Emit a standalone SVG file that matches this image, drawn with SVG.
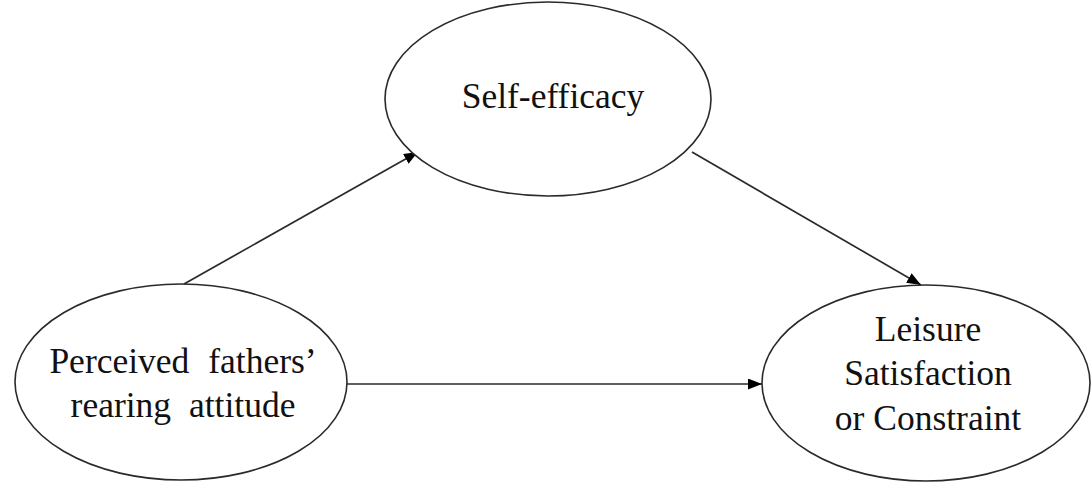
<svg xmlns="http://www.w3.org/2000/svg" width="1092" height="498" viewBox="0 0 1092 498">
<style>
.node{fill:#fff;stroke:#2a2a2a;stroke-width:1.6}
.lbl{font-family:"Liberation Serif","Times New Roman",serif;font-size:35.5px;fill:#111;text-anchor:middle}
.edge{stroke:#2a2a2a;stroke-width:1.7;fill:none;marker-end:url(#arr)}
</style>
<defs>
<marker id="arr" viewBox="0 0 14 11" refX="14" refY="5.5" markerWidth="14" markerHeight="11" markerUnits="userSpaceOnUse" orient="auto">
<path d="M0,0 L14,5.5 L0,11 Z" fill="#000"/>
</marker>
</defs>
<rect width="1092" height="498" fill="#fff"/>
<g id="connectors">
<line class="edge" x1="184" y1="284" x2="418" y2="152"/>
<line class="edge" x1="692" y1="152" x2="921" y2="285"/>
<line class="edge" x1="347" y1="384" x2="762" y2="384"/>
</g>
<g id="self-efficacy">
<ellipse class="node" cx="548" cy="99" rx="163" ry="97"/>
<text class="lbl" x="553" y="108">Self-efficacy</text>
</g>
<g id="fathers">
<ellipse class="node" cx="181" cy="382" rx="166" ry="98"/>
<text class="lbl" x="183" y="373" word-spacing="10">Perceived fathers’</text>
<text class="lbl" x="183" y="417" word-spacing="9">rearing attitude</text>
</g>
<g id="leisure">
<ellipse class="node" cx="926" cy="383" rx="164" ry="98"/>
<text class="lbl" x="928" y="341">Leisure</text>
<text class="lbl" x="928" y="385">Satisfaction</text>
<text class="lbl" x="928" y="430">or Constraint</text>
</g>
</svg>
